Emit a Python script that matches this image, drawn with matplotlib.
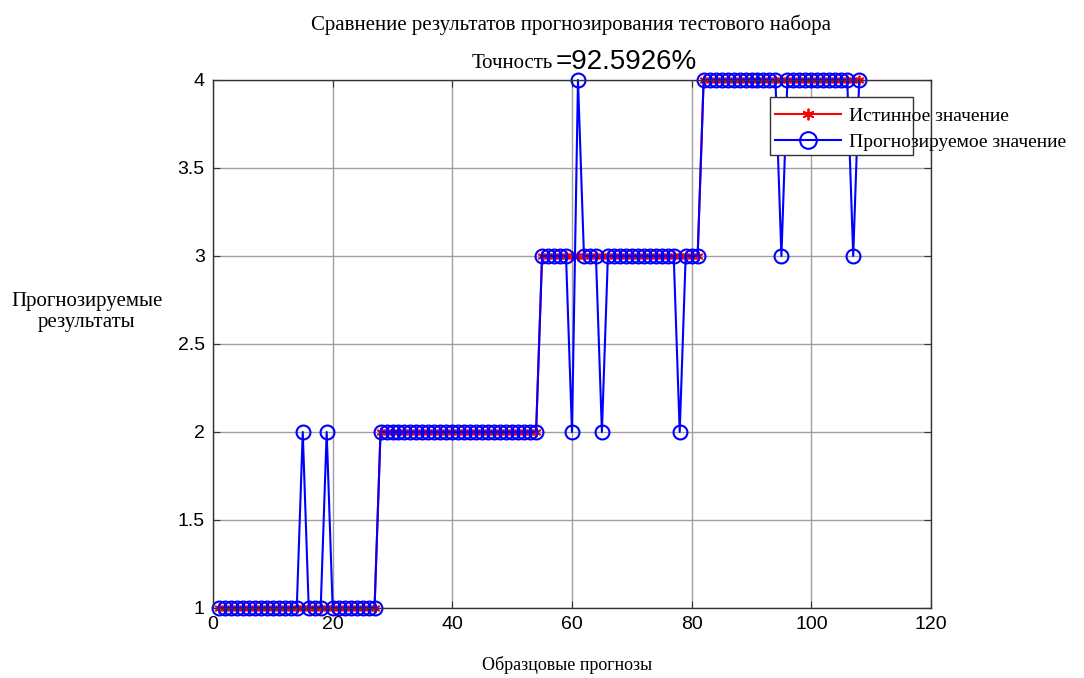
import matplotlib.pyplot as plt
from matplotlib.patches import Rectangle

# test-set labels (true) and predicted labels, samples 1..108
true_vals = ([1, 1, 1, 1, 1, 1, 1, 1, 1, 1, 1, 1, 1, 1, 1, 1, 1, 1, 1, 1, 1, 1, 1, 1, 1, 1, 1] +
             [2, 2, 2, 2, 2, 2, 2, 2, 2, 2, 2, 2, 2, 2, 2, 2, 2, 2, 2, 2, 2, 2, 2, 2, 2, 2, 2] +
             [3, 3, 3, 3, 3, 3, 3, 3, 3, 3, 3, 3, 3, 3, 3, 3, 3, 3, 3, 3, 3, 3, 3, 3, 3, 3, 3] +
             [4, 4, 4, 4, 4, 4, 4, 4, 4, 4, 4, 4, 4, 4, 4, 4, 4, 4, 4, 4, 4, 4, 4, 4, 4, 4, 4])
pred_vals = ([1, 1, 1, 1, 1, 1, 1, 1, 1, 1, 1, 1, 1, 1, 2, 1, 1, 1, 2, 1, 1, 1, 1, 1, 1, 1, 1] +
             [2, 2, 2, 2, 2, 2, 2, 2, 2, 2, 2, 2, 2, 2, 2, 2, 2, 2, 2, 2, 2, 2, 2, 2, 2, 2, 2] +
             [3, 3, 3, 3, 3, 2, 4, 3, 3, 3, 2, 3, 3, 3, 3, 3, 3, 3, 3, 3, 3, 3, 3, 2, 3, 3, 3] +
             [4, 4, 4, 4, 4, 4, 4, 4, 4, 4, 4, 4, 4, 3, 4, 4, 4, 4, 4, 4, 4, 4, 4, 4, 4, 3, 4])
samples = list(range(1, len(true_vals) + 1))
accuracy = 92.5926

xticks = [0, 20, 40, 60, 80, 100, 120]
yticks = [1, 1.5, 2, 2.5, 3, 3.5, 4]

serif = 'Liberation Serif'
sans = 'Liberation Sans'
asterisk = (6, 2, 0)  # MATLAB-style '*'

fig = plt.figure(figsize=(10.84, 6.78), dpi=100)
ax = fig.add_axes([213 / 1084, 1 - 608 / 678, (931 - 213) / 1084, (608 - 80) / 678])

ax.plot(samples, true_vals, color='red', linestyle='-', marker=asterisk, linewidth=1.5,
        markersize=7, markeredgewidth=1.3, clip_on=False, label='Истинное значение')
ax.plot(samples, pred_vals, 'b-o', linewidth=1.5, markersize=10, markerfacecolor='none',
        markeredgewidth=1.5, clip_on=False, label='Прогнозируемое значение')

ax.set_xlim(0, 120)
ax.set_ylim(1, 4)
ax.set_xticks(xticks)
ax.set_yticks(yticks)
ax.set_xticklabels([str(t) for t in xticks], fontfamily=sans, fontsize=14)
ax.set_yticklabels([f'{t:g}' for t in yticks], fontfamily=sans, fontsize=14)
ax.tick_params(direction='in', top=True, right=True, length=5, color='#333333', pad=6)
ax.grid(True, color='#a0a0a0', linewidth=1)
ax.set_axisbelow(True)
for s in ax.spines.values():
    s.set_color('#333333')
    s.set_linewidth(1)

# labels
fig.text(571 / 1084, 1 - 25 / 678, 'Сравнение результатов прогнозирования тестового набора',
         ha='center', va='center', fontfamily=serif, fontsize=15)
fig.text(553 / 1084, 1 - 63 / 678, 'Точность', ha='right', va='center',
         fontfamily=serif, fontsize=15)
fig.text(556 / 1084, 1 - 62 / 678, f'={accuracy}%', ha='left', va='center',
         fontfamily=sans, fontsize=20)
fig.text(567 / 1084, 1 - 665 / 678, 'Образцовые прогнозы', ha='center', va='center',
         fontfamily=serif, fontsize=13)
fig.text(87 / 1084, 1 - 312 / 678, 'Прогнозируемые\nрезультаты', ha='center', va='center',
         fontfamily=serif, fontsize=15, linespacing=1.15)

# legend: box narrower than its text, as in the reference
box = Rectangle((770 / 1084, 1 - 155 / 678), 143 / 1084, 58 / 678, transform=fig.transFigure,
                facecolor='white', edgecolor='#333333', linewidth=1, zorder=4, clip_on=False)
ax.add_patch(box)
leg = ax.legend(loc='upper left', bbox_to_anchor=(775 / 1084, 1 - 107 / 678),
                bbox_transform=fig.transFigure, frameon=False, borderpad=0,
                borderaxespad=0, handlelength=3.4, handletextpad=0.4, labelspacing=0.45,
                markerscale=1.2, prop={'family': serif, 'size': 14})
leg.set_zorder(5)

fig.savefig('out.png', dpi=100)
